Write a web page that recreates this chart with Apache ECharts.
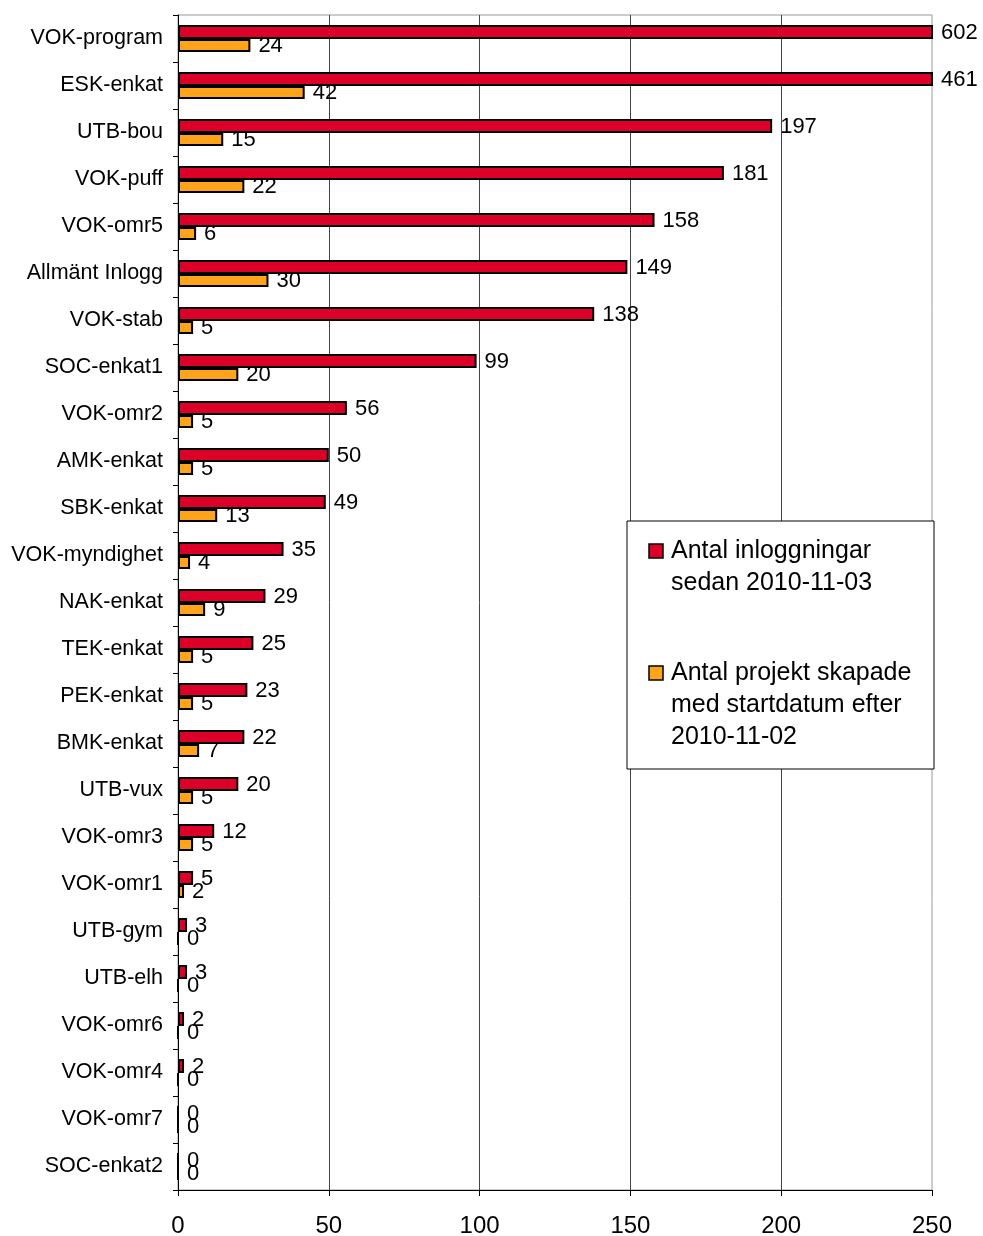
<!DOCTYPE html>
<html>
<head>
<meta charset="utf-8">
<script src="https://cdn.jsdelivr.net/npm/echarts@6/dist/echarts.min.js"></script>
<style>
  html, body { margin: 0; padding: 0; background: #fff; }
  #chart { width: 983px; height: 1236px; }
</style>
</head>
<body>
<div id="chart"></div>
<script>
// kategorier uppifrån och ned
const categories = [
  'VOK-program', 'ESK-enkat', 'UTB-bou', 'VOK-puff', 'VOK-omr5', 'Allmänt Inlogg',
  'VOK-stab', 'SOC-enkat1', 'VOK-omr2', 'AMK-enkat', 'SBK-enkat', 'VOK-myndighet',
  'NAK-enkat', 'TEK-enkat', 'PEK-enkat', 'BMK-enkat', 'UTB-vux', 'VOK-omr3',
  'VOK-omr1', 'UTB-gym', 'UTB-elh', 'VOK-omr6', 'VOK-omr4', 'VOK-omr7', 'SOC-enkat2'
]
const inloggningar = [602, 461, 197, 181, 158, 149, 138, 99, 56, 50, 49, 35, 29, 25, 23, 22, 20, 12, 5, 3, 3, 2, 2, 0, 0]
const projekt = [24, 42, 15, 22, 6, 30, 5, 20, 5, 5, 13, 4, 9, 5, 5, 7, 5, 5, 2, 0, 0, 0, 0, 0, 0]
const xTicks = [0, 50, 100, 150, 200, 250]
const seriesNames = ['Antal inloggningar\nsedan 2010-11-03', 'Antal projekt skapade\nmed startdatum efter\n2010-11-02']
const colors = ['#DC0028', '#FFA31A']

const font = 'Arial, "Liberation Sans", sans-serif'

const chart = echarts.init(document.getElementById('chart'))

const barLabel = {
  show: true,
  position: 'right',
  distance: 8,
  color: '#000',
  fontFamily: font,
  fontSize: 22
}

chart.setOption({
  animation: false,
  backgroundColor: '#fff',
  legend: { show: false },
  grid: {
    left: 178, right: 51, top: 15, bottom: 46,
    containLabel: false,
    outerBoundsMode: 'none',
    show: true, borderColor: '#999', borderWidth: 1
  },
  xAxis: {
    type: 'value',
    min: xTicks[0],
    max: xTicks[xTicks.length - 1],
    interval: 50,
    axisLine: { show: true, lineStyle: { color: '#000', width: 1 } },
    axisTick: { show: true, length: 6, lineStyle: { color: '#000' } },
    axisLabel: { color: '#000', fontFamily: font, fontSize: 24, margin: 24 },
    splitLine: { show: true, showMinLine: false, showMaxLine: false, lineStyle: { color: '#444', width: 1 } }
  },
  yAxis: {
    type: 'category',
    data: categories,
    inverse: true,
    axisLine: { show: true, lineStyle: { color: '#000', width: 1 } },
    axisTick: { show: true, length: 5, lineStyle: { color: '#000' } },
    axisLabel: { color: '#000', fontFamily: font, fontSize: 21.5, margin: 15 }
  },
  series: [
    {
      name: seriesNames[0],
      type: 'bar',
      data: inloggningar,
      clip: true,
      barWidth: 14,
      barGap: '0%',
      itemStyle: { color: colors[0], borderColor: '#000', borderWidth: 2 },
      label: Object.assign({}, barLabel, { offset: [0, 1] })
    },
    {
      name: seriesNames[1],
      type: 'bar',
      data: projekt,
      clip: true,
      barWidth: 13,
      barGap: '0%',
      itemStyle: { color: colors[1], borderColor: '#000', borderWidth: 2 },
      label: Object.assign({}, barLabel, { offset: [0, 0] })
    }
  ],
  graphic: [
    {
      type: 'rect',
      shape: { x: 627, y: 521, width: 307, height: 248 },
      style: { fill: '#fff', stroke: '#000', lineWidth: 1 },
      z: 100
    },
    {
      type: 'rect',
      shape: { x: 649, y: 544, width: 14, height: 14 },
      style: { fill: colors[0], stroke: '#000', lineWidth: 1.5 },
      z: 101
    },
    {
      type: 'text',
      x: 671, y: 535,
      style: { text: seriesNames[0], fill: '#000', font: '25px ' + font, lineHeight: 32, verticalAlign: 'top' },
      z: 101
    },
    {
      type: 'rect',
      shape: { x: 649, y: 666, width: 14, height: 14 },
      style: { fill: colors[1], stroke: '#000', lineWidth: 1.5 },
      z: 101
    },
    {
      type: 'text',
      x: 671, y: 657,
      style: { text: seriesNames[1], fill: '#000', font: '25px ' + font, lineHeight: 32, verticalAlign: 'top' },
      z: 101
    }
  ]
})
</script>
</body>
</html>
